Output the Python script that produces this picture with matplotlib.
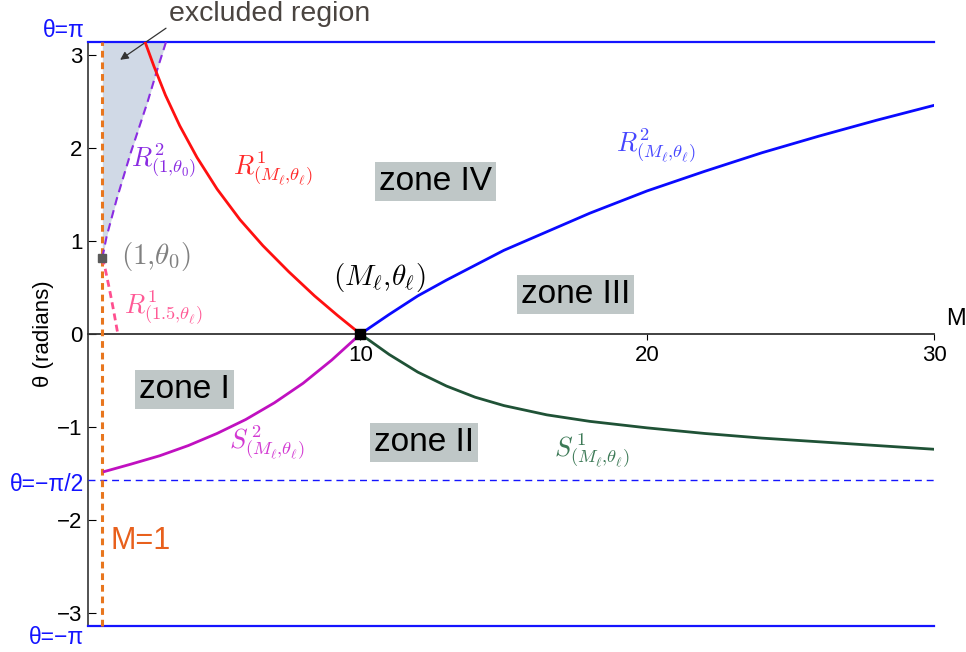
# M-theta plane with the four zones around (M_l, theta_l)
import numpy as np
import matplotlib
matplotlib.use("Agg")
from matplotlib import pyplot as plt

plt.rcParams['font.family'] = ['Liberation Sans', 'DejaVu Sans']
plt.rcParams['mathtext.fontset'] = 'cm'

PI = np.pi

# curves (M, theta)
r1_m = [2.49, 2.8, 3.2, 3.7, 4.3, 5.0, 5.8, 6.6, 7.5, 8.4, 9.2, 10.0]
r1_t = [PI, 2.88, 2.57, 2.24, 1.90, 1.56, 1.23, 0.95, 0.67, 0.41, 0.20, 0.0]

r2_m = [10.0, 11.0, 12.0, 13.0, 14.0, 15.0, 16.5, 18.0, 20.0, 22.0, 24.0, 26.0, 28.0, 30.0]
r2_t = [0.0, 0.21, 0.41, 0.58, 0.74, 0.90, 1.10, 1.30, 1.54, 1.75, 1.95, 2.13, 2.30, 2.46]

s1_m = [10.0, 11.0, 12.0, 13.0, 14.0, 15.0, 16.5, 18.0, 20.0, 22.0, 24.0, 26.0, 28.0, 30.0]
s1_t = [0.0, -0.22, -0.41, -0.56, -0.68, -0.77, -0.87, -0.94, -1.01, -1.07, -1.12, -1.16, -1.20, -1.24]

s2_m = [1.07, 2.0, 3.0, 4.0, 5.0, 6.0, 7.0, 8.0, 9.0, 10.0]
s2_t = [-1.48, -1.40, -1.31, -1.20, -1.07, -0.92, -0.74, -0.53, -0.28, 0.0]

# dashed curves through (1, theta0)
theta0 = 0.82
r2_0_m = [1.0, 1.15, 1.5, 2.0, 2.58, 2.93, 3.22]
r2_0_t = [theta0, 1.05, 1.45, 1.96, 2.50, 2.86, PI]

r1_15_m = [1.0, 1.1, 1.25, 1.4, 1.54]
r1_15_t = [theta0, 0.70, 0.48, 0.24, 0.0]

M_l, theta_l = 10.0, 0.0
x_ticks = [10, 20, 30]
y_ticks = [-3, -2, -1, 0, 1, 2, 3]

zones = ["zone I", "zone II", "zone III", "zone IV"]
zone_m = [3.87, 12.21, 17.49, 12.63]
zone_t = [-0.60, -1.17, 0.42, 1.645]

fig = plt.figure(figsize=(9.66, 6.52), dpi=100)
ax = fig.add_axes([88 / 966, 26 / 652, 846 / 966, 584 / 652])
ax.set_xlim(0.5, 30)
ax.set_ylim(-PI, PI)

# excluded region between M=1 and the dashed R2 curve
ax.fill_betweenx(r2_0_t, 1.0, r2_0_m, color='#d0d9e6', lw=0, zorder=1)

ax.axhline(PI, color='#1414ff', lw=1.6, clip_on=False, zorder=3)
ax.axhline(-PI, color='#1414ff', lw=1.6, clip_on=False, zorder=3)
ax.axhline(-PI / 2, color='#1414ff', lw=1.0, ls=(0, (5, 3.5)), zorder=3)
ax.axvline(1.0, color='#e8761e', lw=2.2, ls=(0, (2.2, 1.6)), clip_on=False, zorder=4)

ax.plot(r2_0_m, r2_0_t, color='#8a2be2', lw=1.5, ls=(0, (4, 2.5)), zorder=4)
ax.plot(r1_15_m, r1_15_t, color='#ff4f8f', lw=2.0, ls=(0, (2.5, 1.6)), zorder=4)

ax.plot(r1_m, r1_t, color='#ff1010', lw=2.0, zorder=5)
ax.plot(r2_m, r2_t, color='#0a0aff', lw=2.0, zorder=5)
ax.plot(s1_m, s1_t, color='#1f5236', lw=2.0, zorder=5)
ax.plot(s2_m, s2_t, color='#c010c0', lw=2.0, zorder=5)

ax.plot([1.0], [theta0], 's', color='#5a5a5a', ms=6, zorder=6)
ax.plot([M_l], [theta_l], 's', color='black', ms=6.5, zorder=6, clip_on=False)

# axes crossing at theta = 0
for side in ['top', 'right']:
    ax.spines[side].set_visible(False)
ax.spines['bottom'].set_position(('data', 0))
ax.spines['bottom'].set_color('#333333')
ax.spines['left'].set_color('#444444')
ax.spines['bottom'].set_linewidth(1.3)
ax.spines['left'].set_linewidth(1.3)
ax.set_xticks(x_ticks)
ax.set_yticks(y_ticks)
ax.tick_params(axis='x', direction='out', length=4, pad=4, labelsize=16)
ax.tick_params(axis='y', direction='in', length=6, pad=4, labelsize=16)
ax.set_ylabel('θ (radians)', fontsize=16, labelpad=2)
ax.text(30.75, 0.16, 'M', fontsize=17, ha='center', va='center')

# zone boxes
for name, m, t in zip(zones, zone_m, zone_t):
    ax.text(m, t, name, fontsize=24, ha='center', va='center', zorder=7,
            bbox=dict(boxstyle='square,pad=0.12', fc='#bfc7c7', ec='none'))

# curve labels
lab = dict(fontsize=19, ha='left', va='center')
ax.text(5.57, 1.78, r'$R^1_{(M_\ell{,}\theta_\ell)}$', color='#ff2a2a', **lab)
ax.text(2.0, 1.87, r'$R^2_{(1{,}\theta_0)}$', color='#8a2be2', **lab)
ax.text(1.76, 0.28, r'$R^1_{(1.5{,}\theta_\ell)}$', color='#ff5a96', **lab)
ax.text(18.9, 2.03, r'$R^2_{(M_\ell{,}\theta_\ell)}$', color='#4646ff', **lab)
ax.text(16.74, -1.25, r'$S^{\,1}_{(M_\ell{,}\theta_\ell)}$', color='#3d7a57', **lab)
ax.text(5.42, -1.17, r'$S^{\,2}_{(M_\ell{,}\theta_\ell)}$', color='#d238d2', **lab)

ax.text(1.66, 0.83, r'$(1{,}\theta_0)$', color='#808080', fontsize=21, ha='left', va='center')
ax.text(9.04, 0.61, r'$(M_\ell{,}\theta_\ell)$', color='black', fontsize=21, ha='left', va='center')

ax.text(2.35, -2.23, 'M=1', color='#e8601c', fontsize=22, ha='center', va='center')

ytr = ax.get_yaxis_transform()
ax.text(-0.004, 3.26, 'θ=π', color='#1414ff', fontsize=16.5, ha='right', va='center', transform=ytr)
ax.text(-0.004, -1.62, 'θ=−π/2', color='#1414ff', fontsize=16.5, ha='right', va='center', transform=ytr)
ax.text(-0.004, -3.26, 'θ=−π', color='#1414ff', fontsize=16.5, ha='right', va='center', transform=ytr)

ax.text(3.33, 3.44, 'excluded region', color='#4a4440', fontsize=20.5, ha='left', va='center')
ax.annotate('', xy=(1.62, 2.95), xytext=(3.22, 3.29), annotation_clip=False,
            arrowprops=dict(arrowstyle='-|>', color='#333333', lw=0.9, mutation_scale=12,
                            shrinkA=0, shrinkB=0))

fig.savefig('out.png', dpi=100)
